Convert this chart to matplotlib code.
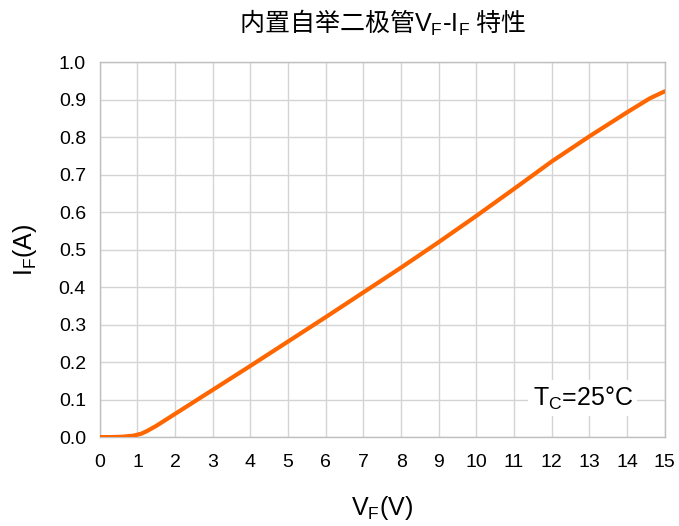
import matplotlib
matplotlib.use("Agg")
import matplotlib.pyplot as plt
import numpy as np

vf = [0, 0.3, 0.6, 0.9, 1.1, 1.25, 1.5, 2, 3, 4, 5, 6, 7, 8, 9, 10, 11, 12, 13, 14, 14.6, 15]
i_f = [0.0, 0.0, 0.001, 0.004, 0.009, 0.016, 0.03, 0.062, 0.126, 0.19, 0.255, 0.32, 0.386, 0.452, 0.52, 0.59, 0.662, 0.735, 0.802, 0.866, 0.903, 0.922]
xticks = list(range(0, 16))
yticks = [round(0.1 * k, 1) for k in range(11)]

plt.rcParams['mathtext.fontset'] = 'custom'
plt.rcParams['mathtext.rm'] = 'Liberation Sans'
plt.rcParams['mathtext.it'] = 'Liberation Sans:italic'
plt.rcParams['mathtext.bf'] = 'Liberation Sans:bold'
plt.rcParams['font.family'] = ['Liberation Sans', 'DejaVu Sans']

fig = plt.figure(figsize=(6.79, 5.26), dpi=100)
ax = fig.add_axes([0.147, 0.169, 0.832, 0.713])
ax.plot(vf, i_f, color='#FF6600', lw=3, solid_capstyle='round', zorder=3)
ax.set_xlim(0, 15)
ax.set_ylim(0, 1.0)
ax.set_xticks(xticks)
ax.set_yticks(yticks)
ax.set_yticklabels([f"{v:.1f}" for v in yticks])
ax.tick_params(length=0, labelsize=14, colors='black')
ax.tick_params(axis='x', pad=12)
ax.tick_params(axis='y', pad=10)
ax.grid(True, color='#d4d4d4', lw=1)
ax.set_axisbelow(True)
for s in ax.spines.values():
    s.set_color('#bfbfbf')
    s.set_linewidth(1)

ax.set_xlabel(r'$\mathrm{V_F}$(V)', fontsize=18, labelpad=17)
ax.set_ylabel(r'$\mathrm{I_F}$(A)', fontsize=18, labelpad=14)
ax.set_title(r'内置自举二极管$\mathrm{V_F}$-$\mathrm{I_F}$ 特性', fontsize=18,
             family='Noto Sans CJK SC', pad=22)
ax.text(12.82, 0.104, r'$\mathrm{T_C}$=25°C', fontsize=18, ha='center', va='center',
        bbox=dict(facecolor='white', edgecolor='none', pad=3), zorder=4)

fig.savefig('out.png', dpi=100)
